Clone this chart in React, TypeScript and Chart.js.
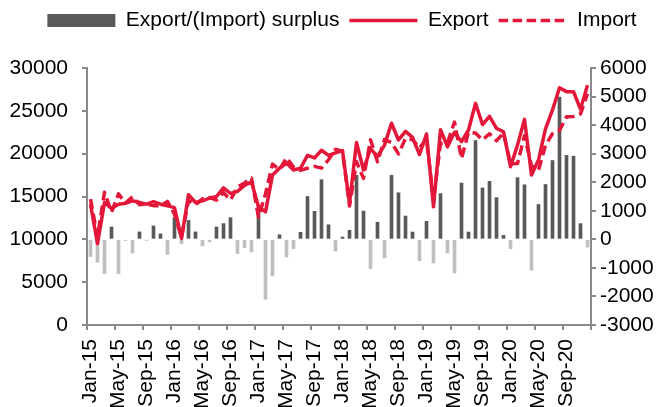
import React, { useEffect, useRef } from "react";
import { Chart, registerables } from "chart.js";

Chart.register(...registerables);

const months = [
  "Jan-15", "Feb-15", "Mar-15", "Apr-15", "May-15", "Jun-15", "Jul-15", "Aug-15", "Sep-15", "Oct-15", "Nov-15", "Dec-15",
  "Jan-16", "Feb-16", "Mar-16", "Apr-16", "May-16", "Jun-16", "Jul-16", "Aug-16", "Sep-16", "Oct-16", "Nov-16", "Dec-16",
  "Jan-17", "Feb-17", "Mar-17", "Apr-17", "May-17", "Jun-17", "Jul-17", "Aug-17", "Sep-17", "Oct-17", "Nov-17", "Dec-17",
  "Jan-18", "Feb-18", "Mar-18", "Apr-18", "May-18", "Jun-18", "Jul-18", "Aug-18", "Sep-18", "Oct-18", "Nov-18", "Dec-18",
  "Jan-19", "Feb-19", "Mar-19", "Apr-19", "May-19", "Jun-19", "Jul-19", "Aug-19", "Sep-19", "Oct-19", "Nov-19", "Dec-19",
  "Jan-20", "Feb-20", "Mar-20", "Apr-20", "May-20", "Jun-20", "Jul-20", "Aug-20", "Sep-20", "Oct-20", "Nov-20", "Dec-20",
];

const exportValues = [
  14100, 9500, 14300, 13600, 14100, 14200, 14500, 14300, 14100, 14400, 14100, 13900,
  13700, 10100, 15200, 14300, 14500, 14800, 15000, 16000, 15350, 15600, 16300, 16700,
  13800, 13200, 17500, 18300, 18900, 18100, 18300, 19800, 19500, 20400, 19800, 20100,
  20350, 14200, 21300, 18100, 20600, 19650, 21000, 23550, 21600, 22600, 21900, 19900,
  22300, 13800, 22800, 20800, 22500, 21400, 22760, 25870, 23400, 24350, 22960, 22560,
  18480, 21000, 24000, 17500, 19260, 22900, 25100, 27700, 27240, 27240, 25200, 28000,
];

const importValues = [
  14700, 10300, 15500, 13170, 15300, 14240, 14980, 14040, 14130, 13930, 13910, 14430,
  12940, 10250, 14540, 14040, 14730, 14890, 14570, 15450, 14590, 16100, 16590, 17140,
  12600, 15300, 18780, 18140, 19520, 18430, 18060, 18300, 18520, 18310, 19290, 20510,
  20270, 13890, 19060, 17110, 21630, 19050, 21650, 21310, 19970, 21790, 21650, 20650,
  21670, 14630, 21200, 21280, 23680, 19430, 22510, 22410, 21600, 22320, 21500, 22420,
  18810, 18840, 22090, 18580, 18040, 20980, 22340, 22720, 24300, 24330, 24650, 27000,
];

const surplusValues = [
  -600, -800, -1200, 430, -1200, -40, -480, 260, -30, 470, 190, -530,
  760, -150, 660, 260, -230, -90, 430, 550, 760, -500, -290, -440,
  1200, -2100, -1280, 160, -620, -330, 245, 1500, 980, 2090, 510, -410,
  80, 315, 2240, 990, -1025, 600, -650, 2240, 1630, 815, 255, -750,
  630, -830, 1600, -480, -1180, 1970, 255, 3460, 1800, 2030, 1460, 140,
  -330, 2160, 1910, -1080, 1220, 1920, 2760, 4980, 2940, 2910, 550, -270,
];

const RED = "#e3173a";
const DARK = "#595959";
const LIGHT = "#bfbfbf";
const AXIS = "#8a8a8a";
const FONT = "'Liberation Sans', Arial, Helvetica, sans-serif";

export default function App() {
  const ref = useRef<HTMLCanvasElement>(null);

  useEffect(() => {
    const canvas = ref.current;
    if (!canvas) return;
    const tickFont = { size: 21, family: FONT };
    const chart = new Chart(canvas, {
      type: "bar",
      data: {
        labels: months,
        datasets: [
          {
            type: "bar",
            label: "Export/(Import) surplus",
            data: surplusValues,
            xAxisID: "x",
            yAxisID: "y1",
            backgroundColor: surplusValues.map((v) => (v >= 0 ? DARK : LIGHT)),
            barThickness: 3,
            order: 3,
          },
          {
            type: "line",
            label: "Export",
            data: exportValues,
            xAxisID: "x",
            yAxisID: "y",
            borderColor: RED,
            backgroundColor: RED,
            borderWidth: 3.5,
            pointRadius: 0,
            tension: 0,
            borderJoinStyle: "round",
            order: 1,
          },
          {
            type: "line",
            label: "Import",
            data: importValues,
            xAxisID: "x",
            yAxisID: "y",
            borderColor: RED,
            backgroundColor: RED,
            borderWidth: 3.5,
            borderDash: [10, 5],
            pointRadius: 0,
            tension: 0,
            borderJoinStyle: "round",
            order: 2,
          },
        ],
      },
      options: {
        animation: false,
        responsive: true,
        maintainAspectRatio: false,
        layout: { padding: { left: 0, right: -22, top: 0, bottom: 0 } },
        plugins: {
          tooltip: { enabled: false },
          legend: {
            display: true,
            position: "top",
            labels: {
              usePointStyle: true,
              pointStyleWidth: 68,
              boxHeight: 13,
              padding: 10,
              color: "#000",
              font: { size: 21, family: FONT },
              generateLabels: () => [
                {
                  text: "Export/(Import) surplus",
                  fillStyle: DARK,
                  strokeStyle: DARK,
                  lineWidth: 0,
                  pointStyle: "rect",
                  hidden: false,
                  datasetIndex: 0,
                  fontColor: "#000",
                },
                {
                  text: "Export",
                  fillStyle: RED,
                  strokeStyle: RED,
                  lineWidth: 3.5,
                  lineDash: [],
                  pointStyle: "line",
                  hidden: false,
                  datasetIndex: 1,
                  fontColor: "#000",
                },
                {
                  text: "Import",
                  fillStyle: RED,
                  strokeStyle: RED,
                  lineWidth: 3.5,
                  lineDash: [9.5, 4.5],
                  pointStyle: "line",
                  hidden: false,
                  datasetIndex: 2,
                  fontColor: "#000",
                },
              ],
            },
          },
        },
        scales: {
          x: {
            type: "category",
            position: "bottom",
            offset: true,
            grid: {
              display: true,
              offset: true,
              drawOnChartArea: false,
              drawTicks: true,
              tickLength: 5,
              lineWidth: 2,
              color: (ctx: any) =>
                ctx.index === undefined || ctx.index % 4 === 0 ? AXIS : "rgba(0,0,0,0)",
              tickColor: (ctx: any) =>
                ctx.index === undefined || ctx.index % 4 === 0 ? AXIS : "rgba(0,0,0,0)",
            },
            border: { display: true, color: AXIS, width: 2 },
            ticks: {
              autoSkip: false,
              minRotation: 90,
              maxRotation: 90,
              padding: 9,
              color: "#000",
              font: tickFont,
              callback: (_v: any, i: number) => (i % 4 === 0 ? months[i] : ""),
            },
            afterFit: (s: any) => {
              s.height = 82;
            },
          },
          xTop: {
            type: "category",
            position: "top",
            display: true,
            grid: { display: false },
            border: { display: false },
            ticks: { display: false },
            afterFit: (s: any) => {
              s.height = 27;
            },
          },
          y: {
            position: "left",
            min: 0,
            max: 30000,
            grid: {
              display: true,
              drawOnChartArea: false,
              drawTicks: true,
              tickLength: 5,
              lineWidth: 2,
              color: AXIS,
            },
            border: { display: true, color: AXIS, width: 2 },
            ticks: {
              stepSize: 5000,
              padding: 14,
              color: "#000",
              font: tickFont,
              callback: (v: any) => String(v),
            },
            afterFit: (s: any) => {
              s.width = 87;
            },
          },
          y1: {
            position: "right",
            min: -3000,
            max: 6000,
            grid: {
              display: true,
              drawOnChartArea: false,
              drawTicks: true,
              tickLength: 5,
              lineWidth: 2,
              color: AXIS,
            },
            border: { display: true, color: AXIS, width: 2 },
            ticks: {
              stepSize: 1000,
              padding: 4,
              color: "#000",
              font: tickFont,
              callback: (v: any) => String(v),
            },
            afterFit: (s: any) => {
              s.width = 93;
            },
          },
        },
      } as any,
    });
    return () => chart.destroy();
  }, []);

  return (
    <div style={{ position: "fixed", left: 0, top: 0, width: 662, height: 407 }}>
      <canvas ref={ref} />
    </div>
  );
}
